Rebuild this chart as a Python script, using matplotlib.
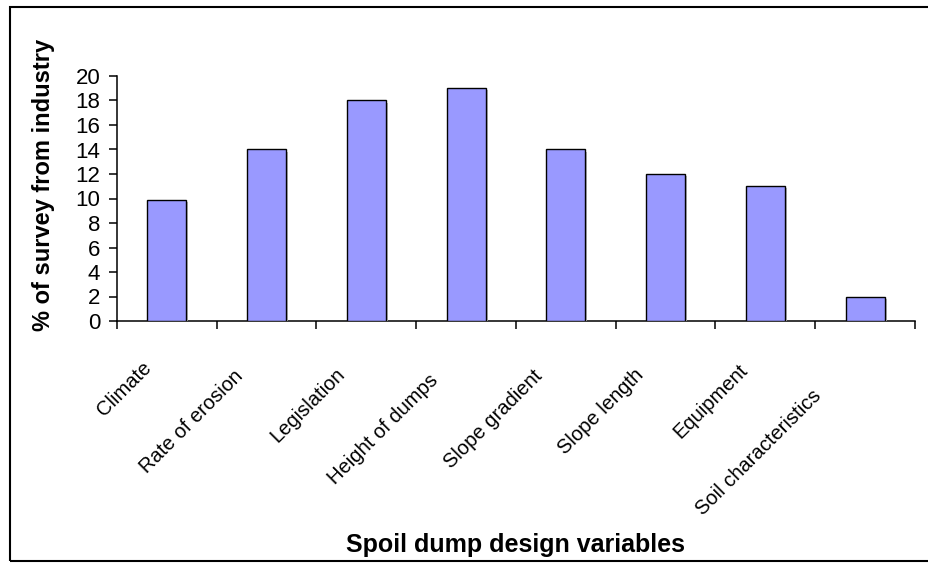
import matplotlib
matplotlib.use("Agg")
import matplotlib.pyplot as plt
from matplotlib.patches import Rectangle
import matplotlib.patheffects as pe
import matplotlib.transforms as mtrans
import math

categories = ["Climate", "Rate of erosion", "Legislation", "Height of dumps",
              "Slope gradient", "Slope length", "Equipment", "Soil characteristics"]
values = [9.9, 14, 18, 19, 14, 12, 11, 2]
yticks = [0, 2, 4, 6, 8, 10, 12, 14, 16, 18, 20]

# layout only: position of each rotated label's right end along its own
# direction (px, negative = further down-left), and perpendicular offset
label_end_u = [-44, -56, -53, -62, -56, -54, -47, -84]
label_perp = 18

plt.rcParams['font.family'] = ['Liberation Sans', 'DejaVu Sans']

W, H = 929, 563
fig = plt.figure(figsize=(W / 100, H / 100), dpi=100)
L, R, T, B = 117, 915, 76, 321
ax = fig.add_axes([L / W, 1 - B / H, (R - L) / W, (B - T) / H])

x = list(range(len(categories)))
ax.bar(x, values, width=0.39, color='#9999FF', edgecolor='black', linewidth=1.0,
       path_effects=[pe.SimplePatchShadow(offset=(1.5, -1.5), shadow_rgbFace='#b8b8b8', alpha=1.0),
                     pe.Normal()], zorder=3)

ax.set_xlim(-0.5, len(categories) - 0.5)
ax.set_ylim(0, 20)
ax.set_yticks(yticks)
ax.set_yticklabels([str(v) for v in yticks], fontsize=16)
ax.set_xticks([i - 0.5 for i in range(len(categories) + 1)])
ax.set_xticklabels([])
ax.tick_params(axis='both', direction='out', length=6, width=1.1, color='black')
ax.tick_params(axis='y', pad=6)

for s in ['top', 'right']:
    ax.spines[s].set_visible(False)
for s in ['left', 'bottom']:
    ax.spines[s].set_linewidth(1.1)

# rotated category labels
c45 = math.sqrt(0.5)
for i, c in enumerate(categories):
    u = label_end_u[i]
    dx = (u + label_perp) * c45
    dy = (u - label_perp) * c45
    off = mtrans.ScaledTranslation(dx / 100, dy / 100, fig.dpi_scale_trans)
    ax.text(i, 0, c, transform=ax.get_xaxis_transform() + off, rotation=45,
            rotation_mode='anchor', ha='right', va='center', fontsize=14.5)

ax.set_ylabel("% of survey from industry", fontsize=17, fontweight='bold')
ax.yaxis.label.set_va('center')
ax.yaxis.set_label_coords((44 - L) / (R - L), (B - 185) / (B - T))
ax.set_xlabel("Spoil dump design variables", fontsize=18, fontweight='bold')
ax.xaxis.label.set_va('center')
ax.xaxis.set_label_coords(0.5, (B - 545) / (B - T))

# outer chart frame
fig.patches.append(Rectangle((10 / W, 1 - 561 / H), 1.2, (561 - 7) / H,
                             transform=fig.transFigure, fill=False,
                             edgecolor='black', linewidth=1.5, clip_on=False))

fig.savefig("out.png", dpi=100)
